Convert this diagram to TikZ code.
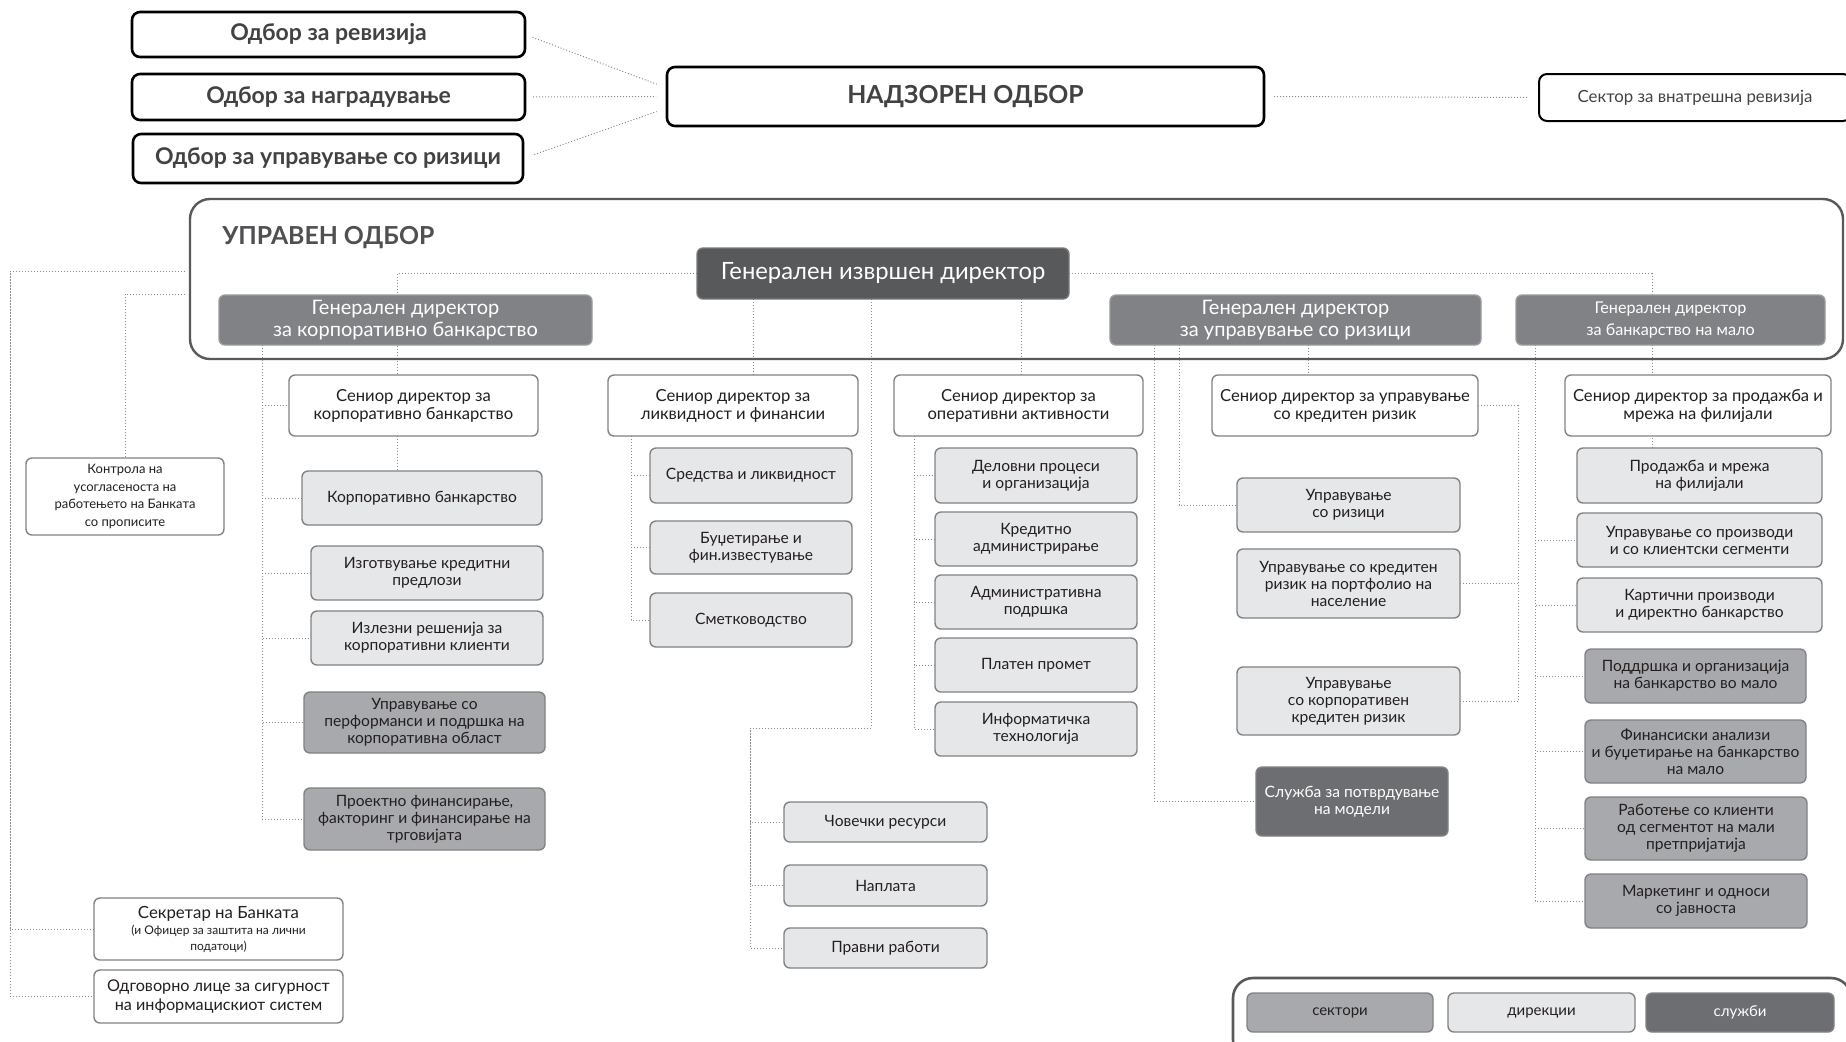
\documentclass[tikz,border=0pt]{standalone}
\usepackage{fontspec}
\setmainfont{Lato}
\usetikzlibrary{backgrounds}
\definecolor{secc}{HTML}{A7A9AC}
\definecolor{dirc}{HTML}{E6E7E8}
\definecolor{svcc}{HTML}{6D6E71}
\definecolor{gdc}{HTML}{808285}
\definecolor{ceoc}{HTML}{58595B}
\definecolor{bordc}{HTML}{808285}
\definecolor{txtc}{HTML}{231F20}
\definecolor{linec}{HTML}{8A8C8F}
\definecolor{framec}{HTML}{58595B}
\newcommand\bx[7]{%
  \pgfmathsetmacro\bxcx{(#2+#4)/2}%
  \pgfmathsetmacro\bxcy{(#3+#5)/2}%
  \pgfmathsetmacro\bxw{(#4-#2)*0.5}%
  \pgfmathsetmacro\bxh{(#5-#3)*0.5}%
  \node[#6, minimum width=\bxw pt, minimum height=\bxh pt] (#1) at (\bxcx,\bxcy) {#7};}
\begin{document}
\begin{tikzpicture}[x=0.5pt,y=-0.5pt,
  base/.style={rounded corners=3pt, draw=bordc, line width=0.7pt, align=center, inner sep=1pt, outer sep=0pt, text=txtc, font=\fontsize{7.8}{8.5}\selectfont},
  board/.style={base, fill=white, draw=black, line width=1.3pt, rounded corners=4pt, font=\bfseries\fontsize{11.5}{13}\selectfont, text=txtc!85},
  gd/.style={base, fill=gdc, draw=gdc!80, text=white, font=\fontsize{10}{11.3}\selectfont},
  ceobox/.style={base, fill=ceoc, draw=ceoc!80, text=white, font=\fontsize{11.9}{13}\selectfont},
  senior/.style={base, fill=white, font=\fontsize{8.3}{9}\selectfont},
  dir/.style={base, fill=dirc},
  sec/.style={base, fill=secc},
  svc/.style={base, fill=svcc, text=white},
  frame/.style={draw=framec, line width=1.2pt, rounded corners=10pt, inner sep=0pt, outer sep=0pt},
  conn/.style={draw=linec, line width=0.5pt, dash pattern=on 0.5pt off 1pt}
]
\useasboundingbox (0,0) rectangle (1846,1041);
% frames
\bx{uo}{190}{199}{1843}{359}{frame}{}
\node[anchor=west, font=\bfseries\fontsize{12.4}{14}\selectfont, text=framec!90!black, inner sep=0pt] (uot) at (222,238) {УПРАВЕН ОДБОР};
\bx{legf}{1233}{978}{1851}{1060}{frame, line width=1.3pt}{}
% top boards
\bx{rev}{132}{12}{525}{57}{board}{Одбор за ревизија}
\bx{nag}{132}{74}{525}{120}{board}{Одбор за наградување}
\bx{rizb}{133}{134}{523}{183}{board}{Одбор за управување со ризици}
\bx{nadz}{667}{67}{1264}{126}{board, font=\bfseries\fontsize{12.4}{14}\selectfont}{НАДЗОРЕН ОДБОР}
\bx{vrev}{1539}{74}{1851}{121}{board, line width=1pt, font=\fontsize{8.4}{10}\selectfont}{Сектор за внатрешна ревизија}
% executives
\bx{ceo}{697}{248}{1069}{299}{ceobox}{Генерален извршен директор}
\bx{gdcorp}{219}{295}{592}{345}{gd}{Генерален директор\\за корпоративно банкарство}
\bx{gdrisk}{1110}{295}{1481}{345}{gd}{Генерален директор\\за управување со ризици}
\bx{gdret}{1516}{295}{1825}{345}{gd, font=\fontsize{8.1}{11.3}\selectfont}{Генерален директор\\за банкарство на мало}
% seniors
\bx{scorp}{289}{375}{538}{436}{senior}{Сениор директор за\\корпоративно банкарство}
\bx{sliq}{608}{375}{858}{436}{senior}{Сениор директор за\\ликвидност и финансии}
\bx{sop}{894}{375}{1143}{436}{senior}{Сениор директор за\\оперативни активности}
\bx{scred}{1212}{375}{1478}{436}{senior}{Сениор директор за управување\\со кредитен ризик}
\bx{ssales}{1565}{375}{1831}{436}{senior}{Сениор директор за продажба и\\мрежа на филијали}
% corporate
\bx{kb}{302}{471}{542}{525}{dir}{Корпоративно банкарство}
\bx{izg}{311}{546}{543}{600}{dir}{Изготвување кредитни\\предлози}
\bx{izl}{311}{611}{543}{665}{dir}{Излезни решенија за\\корпоративни клиенти}
\bx{upf}{304}{692}{545}{753}{sec}{Управување со\\перформанси и подршка на\\корпоративна област}
\bx{pf}{304}{788}{545}{850}{sec}{Проектно финансирање,\\факторинг и финансирање на\\трговијата}
% liquidity
\bx{sred}{650}{448}{852}{503}{dir}{Средства и ликвидност}
\bx{budz}{650}{521}{852}{574}{dir}{Буџетирање и\\фин.известување}
\bx{smet}{650}{593}{852}{647}{dir}{Сметководство}
% operations
\bx{del}{935}{448}{1137}{503}{dir}{Деловни процеси\\и организација}
\bx{kred}{935}{512}{1137}{566}{dir}{Кредитно\\администрирање}
\bx{adm}{935}{575}{1137}{629}{dir}{Административна\\подршка}
\bx{plat}{935}{638}{1137}{692}{dir}{Платен промет}
\bx{inf}{935}{702}{1137}{756}{dir}{Информатичка\\технологија}
% CEO direct
\bx{cov}{784}{802}{987}{842}{dir}{Човечки ресурси}
\bx{napl}{784}{865}{987}{906}{dir}{Наплата}
\bx{prav}{784}{928}{987}{968}{dir}{Правни работи}
% risk
\bx{uriz}{1237}{478}{1460}{532}{dir}{Управување\\со ризици}
\bx{ukr}{1237}{549}{1460}{618}{dir}{Управување со кредитен\\ризик на портфолио на\\население}
\bx{ukor}{1237}{667}{1460}{735}{dir}{Управување\\со корпоративен\\кредитен ризик}
\bx{sluz}{1256}{767}{1448}{836}{svc}{Служба за потврдување\\на модели}
% retail
\bx{prod}{1577}{448}{1822}{503}{dir}{Продажба и мрежа\\на филијали}
\bx{uprz}{1577}{513}{1822}{567}{dir}{Управување со производи\\и со клиентски сегменти}
\bx{kart}{1577}{578}{1822}{632}{dir}{Картични производи\\и директно банкарство}
\bx{podd}{1585}{649}{1806}{703}{sec}{Поддршка и организација\\на банкарство во мало}
\bx{fin}{1585}{720}{1806}{783}{sec}{Финансиски анализи\\и буџетирање на банкарство\\на мало}
\bx{rab}{1585}{797}{1807}{860}{sec}{Работење со клиенти\\од сегментот на мали\\претпријатија}
\bx{mark}{1585}{874}{1807}{928}{sec}{Маркетинг и односи\\со јавноста}
% left
\bx{kontr}{26}{458}{224}{535}{base, fill=white, font=\fontsize{6.5}{8.8}\selectfont}{Контрола на\\усогласеноста на\\работењето на Банката\\со прописите}
\bx{sekr}{94}{898}{343}{960}{base, fill=white, font=\fontsize{8.4}{8}\selectfont}{Секретар на Банката\\{\fontsize{6}{6.5}\selectfont (и Офицер за заштита на лични}\\{\fontsize{6}{6.5}\selectfont податоци)}}
\bx{odg}{94}{970}{343}{1023}{base, fill=white, font=\fontsize{8.1}{9.5}\selectfont}{Одговорно лице за сигурност\\на информацискиот систем}
% legend
\bx{leg1}{1247}{993}{1433}{1032}{sec, font=\fontsize{7.5}{9}\selectfont}{сектори}
\bx{leg2}{1448}{993}{1635}{1032}{dir, font=\fontsize{7.5}{9}\selectfont}{дирекции}
\bx{leg3}{1646}{993}{1834}{1032}{svc, font=\fontsize{7.5}{9}\selectfont}{служби}
% connectors
\begin{scope}[on background layer]
\fill[white] (0,0) rectangle (1846,1041);
\draw[conn, shorten <=4pt, shorten >=5.5pt] (rev.east) -- ([yshift=4.2pt]nadz.west);
\draw[conn, shorten <=4pt, shorten >=5.5pt] (nag.east) -- (nadz.west);
\draw[conn, shorten <=6pt, shorten >=5.5pt] (rizb.east) -- ([yshift=-5.7pt]nadz.west);
\draw[conn, shorten <=5pt, shorten >=6pt] (nadz.east) -- (vrev.west);
\coordinate (b1) at (397,0);
\draw[conn] (ceo.west) -- (ceo.west -| b1) -- (b1 |- kb.north);
\coordinate (b2) at (1652,0);
\draw[conn] (ceo.east) -- (ceo.east -| b2) -- (b2 |- prod.north);
\coordinate (c1) at (753,0);
\draw[conn] (c1 |- ceo.south) -- (c1 |- sliq.north);
\coordinate (c2) at (871,728);
\coordinate (c3) at (750,728);
\draw[conn] (c2 |- ceo.south) -- (c2) -- (c3) |- (prav.west);
\draw[conn] (c3) |- (cov.west);
\draw[conn] (c3) |- (napl.west);
\coordinate (c4) at (1021,0);
\draw[conn] (c4 |- ceo.south) -- (c4 |- sop.north);
\coordinate (k0) at (262,0);
\foreach \ch in {scorp,kb,izg,izl,upf,pf} {\draw[conn] (k0 |- gdcorp.south) |- (\ch.west);}
\coordinate (q0) at (631,0);
\foreach \ch in {sred,budz,smet} {\draw[conn] (q0 |- sliq.south) |- (\ch.west);}
\coordinate (o0) at (914,0);
\foreach \ch in {del,kred,adm,plat,inf} {\draw[conn] (o0 |- sop.south) |- (\ch.west);}
\coordinate (r1) at (1154,0);
\draw[conn] (r1 |- gdrisk.south) |- (sluz.west);
\coordinate (r2) at (1179,0);
\draw[conn] (r2 |- gdrisk.south) |- (uriz.west);
\coordinate (r3) at (1308,0);
\draw[conn] (r3 |- gdrisk.south) -- (r3 |- scred.north);
\coordinate (r4) at (1518,0);
\draw[conn] (scred.east) -| (r4 |- ukor.east) -- (ukor.east);
\draw[conn] (r4 |- ukr.east) -- (ukr.east);
\coordinate (t0) at (1535,0);
\foreach \ch in {uprz,kart,podd,fin,rab,mark} {\draw[conn] (t0 |- gdret.south) |- (\ch.west);}
\coordinate (l1) at (185,271);
\coordinate (lb) at (10,271);
\draw[conn] (l1) -- (lb) |- (odg.west);
\draw[conn] (lb) |- (sekr.west);
\coordinate (l2) at (185,294);
\draw[conn] (l2) -| (kontr.north);
\end{scope}
\end{tikzpicture}
\end{document}
